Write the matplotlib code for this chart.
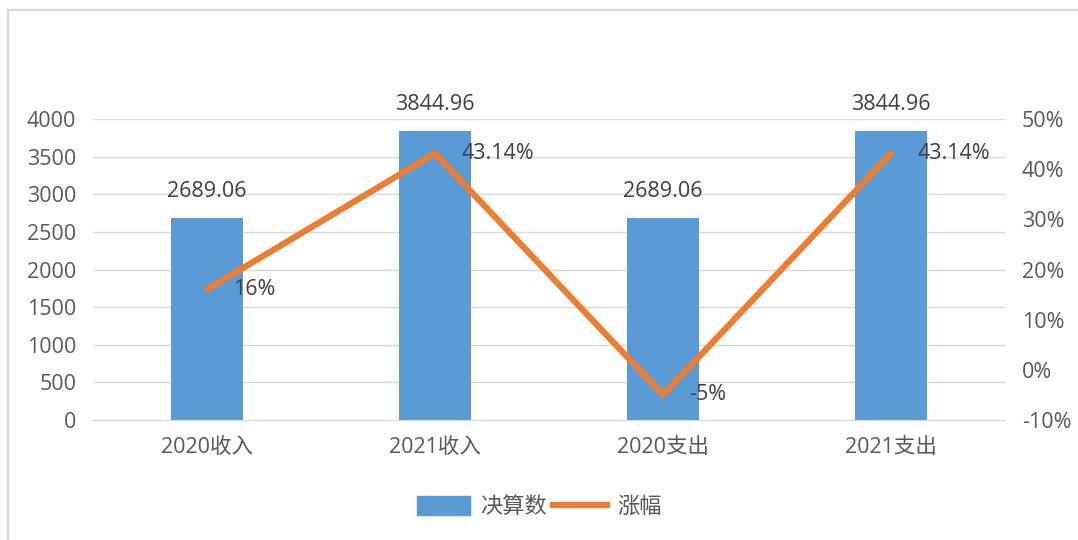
import matplotlib.pyplot as plt
from matplotlib.lines import Line2D
from matplotlib.patches import Patch

plt.rcParams['font.family'] = ['Open Sans', 'Noto Sans CJK SC', 'DejaVu Sans']

categories = ["2020收入", "2021收入", "2020支出", "2021支出"]
amounts = [2689.06, 3844.96, 2689.06, 3844.96]
growth = [16, 43.14, -5, 43.14]
growth_labels = ["16%", "43.14%", "-5%", "43.14%"]

bar_color = "#5B9BD5"
line_color = "#ED7D31"
text_color = "#595959"
fs = 15.5

fig = plt.figure(figsize=(10.78, 5.40), dpi=100)

# outer chart border
fig.add_artist(Line2D([8 / 1078, 8 / 1078], [0, 1 - 10 / 540], transform=fig.transFigure,
                      color="#D9D9D9", lw=1.5))
fig.add_artist(Line2D([8 / 1078, 1], [1 - 10 / 540, 1 - 10 / 540], transform=fig.transFigure,
                      color="#D9D9D9", lw=1.5))

ax = fig.add_axes([93 / 1078, 1 - 420 / 540, 912 / 1078, 301 / 540])
x = range(len(categories))

ax.bar(x, amounts, width=0.315, color=bar_color, zorder=2)
ax.set_xlim(-0.5, 3.5)
ax.set_ylim(0, 4000)
ax.set_yticks(range(0, 4001, 500))
ax.grid(axis="y", color="#D9D9D9", lw=1, zorder=0)
for s in ax.spines.values():
    s.set_visible(False)
ax.spines["bottom"].set_visible(True)
ax.spines["bottom"].set_color("#D9D9D9")
ax.tick_params(axis="both", length=0, colors=text_color, labelsize=fs)
ax.tick_params(axis="y", pad=12)
ax.tick_params(axis="x", pad=12)
ax.set_xticks(list(x))
ax.set_xticklabels(categories)

for i, v in enumerate(amounts):
    ax.annotate(f"{v:.2f}", (i, v), xytext=(0, 11), textcoords="offset points",
                ha="center", va="bottom", color="#404040", fontsize=fs)

ax2 = ax.twinx()
ax2.plot(x, growth, color=line_color, lw=4.5, solid_capstyle="round", zorder=3)
ax2.set_ylim(-10, 50)
ax2.set_yticks(range(-10, 51, 10))
ax2.set_yticklabels([f"{t}%" for t in range(-10, 51, 10)])
for s in ax2.spines.values():
    s.set_visible(False)
ax2.tick_params(axis="y", length=0, colors=text_color, labelsize=fs, pad=12)

for i, (v, lab) in enumerate(zip(growth, growth_labels)):
    ax2.annotate(lab, (i, v), xytext=(19, 0), textcoords="offset points",
                 ha="left", va="center", color="#404040", fontsize=fs)

handles = [Patch(color=bar_color, label="决算数"),
           Line2D([0], [0], color=line_color, lw=4.5, label="涨幅")]
fig.legend(handles=handles, loc="center", bbox_to_anchor=(0.5, 1 - 507 / 540), ncol=2,
           frameon=False, fontsize=16, labelcolor=text_color,
           handlelength=2.4, handleheight=0.9, columnspacing=0.3, handletextpad=0.45)

fig.savefig("out.png", dpi=100, facecolor="white")
